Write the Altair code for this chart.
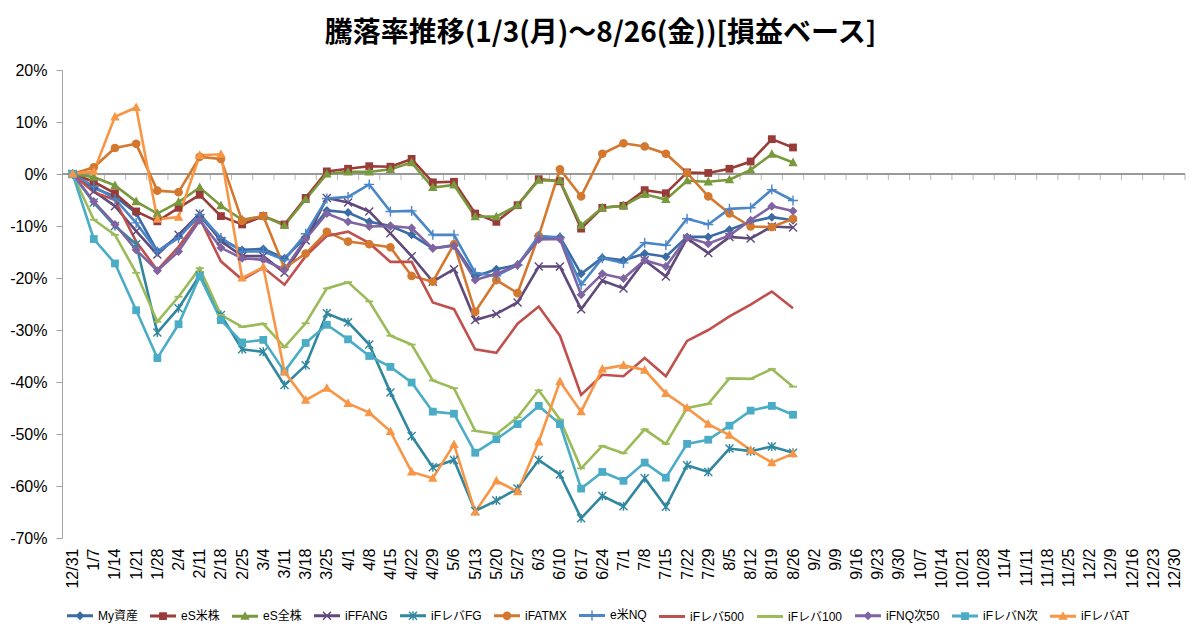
import math
import altair as alt
import pandas as pd

# weekly category axis (values only up to 8/26)
dates = ["12/31", "1/7", "1/14", "1/21", "1/28", "2/4", "2/11", "2/18", "2/25",
         "3/4", "3/11", "3/18", "3/25", "4/1", "4/8", "4/15", "4/22", "4/29",
         "5/6", "5/13", "5/20", "5/27", "6/3", "6/10", "6/17", "6/24", "7/1",
         "7/8", "7/15", "7/22", "7/29", "8/5", "8/12", "8/19", "8/26", "9/2",
         "9/9", "9/16", "9/23", "9/30", "10/7", "10/14", "10/21", "10/28",
         "11/4", "11/11", "11/18", "11/25", "12/2", "12/9", "12/16", "12/23",
         "12/30"]

series = ["My資産", "eS米株", "eS全株", "iFFANG", "iFレバFG", "iFATMX",
          "e米NQ", "iFレバ500", "iFレバ100", "iFNQ次50", "iFレバN次", "iFレバAT"]

# % change
my_assets = [0, -2.7, -4.3, -7.5, -14.9, -12.0, -8.1, -12.6, -14.6, -14.4, -16.2, -12.2,
             -7.0, -7.4, -9.2, -10.0, -11.7, -14.3, -13.7, -19.7, -18.3, -17.5, -12.4,
             -12.1, -19.2, -16.1, -16.6, -15.3, -15.9, -12.1, -12.1, -10.7, -9.2, -8.3, -8.9]
es_us = [0, -1.5, -3.7, -7.2, -9.1, -6.5, -4.0, -8.1, -9.7, -8.1, -9.7, -4.6,
         0.5, 1.0, 1.5, 1.4, 2.9, -1.6, -1.5, -7.6, -9.2, -6.0, -1.0,
         -1.4, -10.5, -6.5, -6.1, -3.1, -3.7, 0.3, 0.2, 1.0, 2.4, 6.7, 5.1]
es_all = [0, -0.6, -2.2, -5.3, -7.6, -5.4, -2.6, -6.1, -8.8, -8.1, -9.9, -4.9,
          0.0, 0.4, 0.4, 0.9, 2.2, -2.6, -2.1, -8.2, -8.2, -6.0, -1.2,
          -1.3, -9.9, -6.5, -6.1, -3.9, -4.9, -1.3, -1.5, -1.1, 0.8, 3.8, 2.2]
if_fang = [0, -3.3, -6.2, -11.0, -15.5, -11.7, -7.6, -12.9, -15.8, -15.8, -19.0, -12.8,
           -4.6, -5.5, -7.2, -11.4, -15.8, -20.7, -18.3, -28.1, -26.9, -24.7, -17.8,
           -17.8, -26.0, -20.5, -22.0, -16.6, -19.7, -12.4, -15.2, -12.1, -12.4, -10.1, -10.3]
if_lev_fg = [0, -5.5, -10.0, -13.5, -30.5, -25.8, -19.5, -27.1, -33.7, -34.2, -40.6, -36.8,
             -26.8, -28.5, -32.8, -42.0, -50.4, -56.4, -55.0, -64.8, -62.8, -60.5, -55.0,
             -57.8, -66.2, -61.9, -63.9, -58.5, -64.0, -56.0, -57.3, -52.8, -53.3, -52.4, -53.6]
if_atmx = [0, 1.3, 5.0, 5.8, -3.2, -3.5, 3.3, 2.9, -9.0, -8.1, -18.1, -15.3,
           -11.1, -13.0, -13.5, -14.1, -19.6, -20.7, -13.5, -26.5, -20.4, -22.9, -11.9,
           0.9, -4.3, 3.9, 5.9, 5.3, 3.9, 0.2, -4.3, -7.6, -10.1, -10.2, -8.6]
e_nq = [0, -2.4, -4.8, -9.4, -14.9, -12.3, -7.8, -12.3, -14.9, -14.9, -16.5, -11.5,
        -4.7, -4.4, -2.0, -7.2, -7.1, -11.7, -11.7, -19.0, -19.6, -17.5, -11.9,
        -12.2, -21.3, -16.2, -17.1, -13.2, -13.7, -8.6, -9.7, -6.7, -6.5, -3.0, -5.1]
if_lev_500 = [0, -3.5, -5.0, -13.0, -18.5, -14.0, -8.5, -16.8, -20.3, -18.0, -21.3, -15.8,
              -11.9, -11.1, -13.3, -16.9, -16.9, -24.7, -26.0, -33.7, -34.4, -28.8, -25.5,
              -31.1, -42.5, -38.6, -38.9, -35.4, -38.9, -32.1, -30.0, -27.4, -25.1, -22.6, -25.8]
if_lev_100 = [0, -8.8, -11.7, -19.0, -28.4, -23.6, -18.1, -27.1, -29.4, -28.8, -33.3, -28.7,
              -22.0, -20.8, -24.5, -31.1, -32.8, -39.7, -41.2, -49.4, -50.0, -46.8, -41.6,
              -47.2, -56.6, -52.3, -53.7, -49.1, -51.9, -45.0, -44.2, -39.3, -39.4, -37.5, -40.9]
if_nq50 = [0, -5.3, -9.7, -14.6, -18.6, -14.9, -8.9, -14.2, -16.2, -16.5, -18.4, -12.5,
           -7.6, -9.2, -10.1, -10.0, -10.4, -14.3, -13.8, -20.4, -19.2, -17.5, -12.6,
           -12.5, -23.2, -19.2, -20.1, -16.6, -17.8, -12.2, -13.4, -11.8, -8.9, -6.2, -7.1]
if_lev_n = [0, -12.5, -17.2, -26.2, -35.4, -28.9, -19.7, -28.1, -32.4, -31.9, -38.0, -32.5,
            -29.0, -31.8, -35.0, -37.1, -40.1, -45.7, -46.1, -53.6, -51.0, -48.1, -44.6,
            -48.1, -60.5, -57.3, -59.0, -55.5, -58.4, -51.9, -51.1, -48.4, -45.5, -44.6, -46.3]
if_lev_at = [0, 0.5, 11.0, 12.8, -8.7, -8.3, 3.6, 3.8, -20.0, -17.9, -38.0, -43.5,
             -41.2, -44.1, -45.9, -49.5, -57.3, -58.5, -52.0, -65.0, -59.0, -61.1, -51.5,
             -39.9, -45.7, -37.5, -36.8, -37.7, -42.2, -45.0, -48.1, -50.2, -53.1, -55.5, -53.8]

all_values = [my_assets, es_us, es_all, if_fang, if_lev_fg, if_atmx,
              e_nq, if_lev_500, if_lev_100, if_nq50, if_lev_n, if_lev_at]

colors = ["#3A6BA5", "#993B39", "#78993C", "#604A7B", "#31879E", "#D3782E",
          "#4A86C8", "#C0504D", "#9BBB59", "#8064A2", "#4BACC6", "#F79646"]

# Excel style markers, outlines in pixels (all wound the same way so they union)
DIAMOND = [[(0, -4.5), (4.5, 0), (0, 4.5), (-4.5, 0)]]
SQUARE = [[(-3.9, -3.9), (3.9, -3.9), (3.9, 3.9), (-3.9, 3.9)]]
TRIANGLE = [[(0, -5), (4.7, 3.6), (-4.7, 3.6)]]
CROSS = [[(-4.5, -3.5), (-3.5, -4.5), (4.5, 3.5), (3.5, 4.5)],
         [(-3.5, 4.5), (-4.5, 3.5), (3.5, -4.5), (4.5, -3.5)]]
STAR = CROSS + [[(-0.7, -4.5), (0.7, -4.5), (0.7, 4.5), (-0.7, 4.5)]]
CIRCLE = [[(4.3 * math.cos(2 * math.pi * i / 20), 4.3 * math.sin(2 * math.pi * i / 20))
           for i in range(20)]]
PLUS = [[(-0.7, -5), (0.7, -5), (0.7, 5), (-0.7, 5)],
        [(-5, -0.7), (5, -0.7), (5, 0.7), (-5, 0.7)]]
NONE = []
DASH = [[(-4, -0.9), (4, -0.9), (4, 0.9), (-4, 0.9)]]
marker_shapes = [DIAMOND, SQUARE, TRIANGLE, CROSS, STAR, CIRCLE,
                 PLUS, NONE, DASH, DIAMOND, SQUARE, TRIANGLE]

PT_SIZE, LEG_SIZE = 400, 676   # symbol areas: 20px and 26px boxes
LEG_LINE = [[(-13, -1.5), (13, -1.5), (13, 1.5), (-13, 1.5)]]


def to_path(polys, size):
    unit = math.sqrt(size) / 2
    out = ""
    for poly in polys:
        out += "M" + "L".join("%.3f,%.3f" % (px / unit, py / unit) for px, py in poly) + "Z"
    return out


markers = [to_path(m, PT_SIZE) or "M0,0Z" for m in marker_shapes]
legend_symbols = [to_path(LEG_LINE + m, LEG_SIZE) for m in marker_shapes]

rows = []
for name, vals in zip(series, all_values):
    for d, v in zip(dates, vals):
        rows.append({"date": d, "series": name, "value": v})
df = pd.DataFrame(rows)

FONT = "'Liberation Sans', 'Noto Sans CJK JP', sans-serif"
GRID = "#a3a3a3"
W, H = 1123, 468
step = W / len(dates)

x = alt.X("date:O", sort=dates, title=None,
          scale=alt.Scale(type="point", padding=0.5, domain=dates),
          axis=alt.Axis(labelAngle=270, labelAlign="right", labelBaseline="middle",
                        labelFont=FONT, labelFontSize=16, labelColor="black",
                        labelPadding=10, ticks=False, tickSize=0, domain=False,
                        grid=False, labelOverlap=False))
y = alt.Y("value:Q", title=None,
          scale=alt.Scale(domain=[-70, 20], nice=False, zero=False),
          axis=alt.Axis(values=list(range(-70, 21, 10)), labelExpr="datum.value + '%'",
                        labelFont=FONT, labelFontSize=16, labelColor="black",
                        labelPadding=9, tickSize=6, tickColor=GRID,
                        domainColor=GRID, gridColor=GRID))
color = alt.Color("series:N", scale=alt.Scale(domain=series, range=colors), legend=None)

lines = alt.Chart(df).mark_line(strokeWidth=2.6).encode(x=x, y=y, color=color)

points = alt.Chart(df).mark_point(filled=True, size=PT_SIZE, opacity=1).encode(
    x=x, y=y, color=color,
    shape=alt.Shape("series:N", scale=alt.Scale(domain=series, range=markers), legend=None),
)

# legend only: no marks drawn, entries come from the explicit domains
legend_common = dict(orient="none", legendX=4, legendY=531, direction="horizontal",
                     columns=12, symbolSize=LEG_SIZE, labelFont=FONT, labelFontSize=12,
                     labelColor="black", labelOffset=4, columnPadding=9, title=None)
legend_layer = alt.Chart(df).transform_filter("false").mark_point(
    filled=True, size=LEG_SIZE, opacity=1
).encode(
    x=x, y=y,
    fill=alt.Fill("series:N", scale=alt.Scale(domain=series, range=colors),
                  legend=alt.Legend(**legend_common)),
    shape=alt.Shape("series:N", scale=alt.Scale(domain=series, range=legend_symbols),
                    legend=alt.Legend(**legend_common)),
)

zero_line = alt.Chart(df).mark_rule(color="#999999", strokeWidth=1).encode(y=alt.datum(0))

cat_ticks = alt.Chart(pd.DataFrame({"date": dates})).mark_tick(
    orient="vertical", size=6, thickness=1, color="#999999",
    xOffset=step / 2, yOffset=3
).encode(x=x, y=alt.datum(0))

chart = alt.layer(zero_line, cat_ticks, lines, points, legend_layer).resolve_scale(
    shape="independent", fill="independent"
).properties(
    width=W, height=H,
    autosize=alt.AutoSizeParams(type="none"),
    padding={"left": 54, "top": 62, "right": 7, "bottom": 91},
    background="white",
    title=alt.TitleParams("騰落率推移(1/3(月)～8/26(金))[損益ベース]",
                          font="'Noto Sans CJK JP', sans-serif", fontSize=28,
                          fontWeight="bold", color="black", anchor="middle",
                          dx=-23, offset=14),
).configure_view(strokeWidth=0)

chart.save("out.html", embed_options={"renderer": "svg", "actions": False})
